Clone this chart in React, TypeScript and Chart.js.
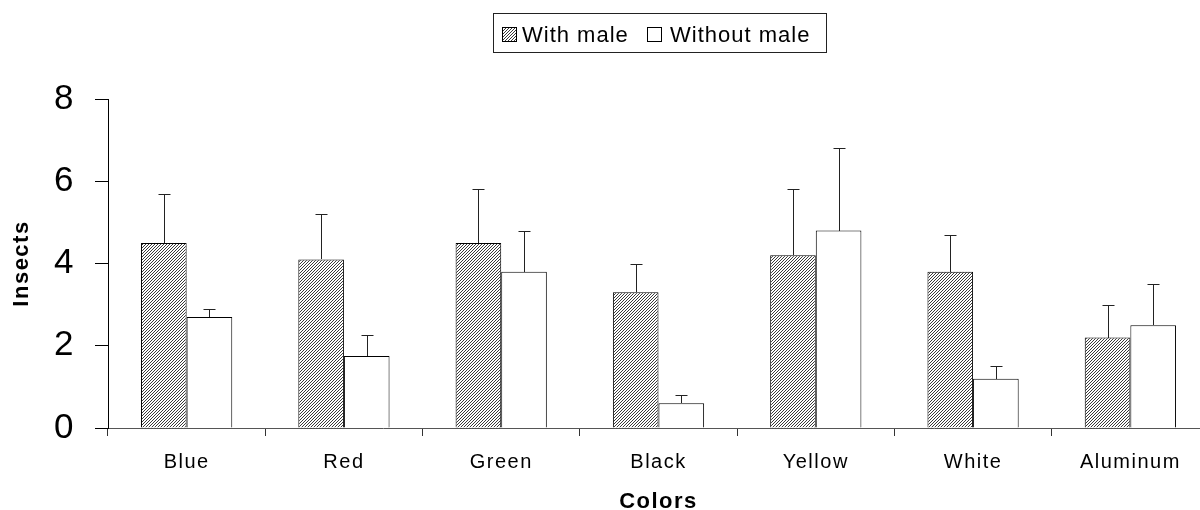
import { useEffect, useRef } from 'react';
import { Chart, registerables } from 'chart.js';

Chart.register(...registerables);

const categories = ['Blue', 'Red', 'Green', 'Black', 'Yellow', 'White', 'Aluminum'];
const withMale = [4.5, 4.1, 4.5, 3.3, 4.2, 3.8, 2.2];
const withMaleErr = [1.2, 1.1, 1.3, 0.7, 1.6, 0.9, 0.8];
const withoutMale = [2.7, 1.75, 3.8, 0.6, 4.8, 1.2, 2.5];
const withoutMaleErr = [0.2, 0.5, 1.0, 0.2, 2.0, 0.3, 1.0];
const seriesNames = ['With male', 'Without male'];
const yTickValues = [0, 2, 4, 6, 8];

const FONT = '"Liberation Sans", Arial, sans-serif';

function makeHatch(): CanvasPattern | string {
  const c = document.createElement('canvas');
  c.width = 3;
  c.height = 3;
  const g = c.getContext('2d');
  if (!g) return '#666';
  g.fillStyle = '#fff';
  g.fillRect(0, 0, 3, 3);
  g.fillStyle = '#3a3a3a';
  for (let x = 0; x < 3; x++) {
    for (let y = 0; y < 3; y++) {
      if ((x + y) % 3 === 2) g.fillRect(x, y, 1, 1);
    }
  }
  const main = document.createElement('canvas').getContext('2d');
  return (main && main.createPattern(c, 'repeat')) || '#666';
}

export default function App() {
  const ref = useRef<HTMLCanvasElement | null>(null);

  useEffect(() => {
    const canvas = ref.current;
    if (!canvas) return;
    const hatch = makeHatch();
    const errs = [withMaleErr, withoutMaleErr];

    const spacingPlugin = {
      id: 'spacing',
      beforeDraw(chart: any) {
        chart.ctx.letterSpacing = '1.5px';
      },
    };

    const errorBars = {
      id: 'errorBars',
      afterDatasetsDraw(chart: any) {
        const ctx = chart.ctx;
        const yScale = chart.scales.y;
        ctx.save();
        ctx.strokeStyle = '#222';
        ctx.lineWidth = 1;
        chart.data.datasets.forEach((ds: any, di: number) => {
          const meta = chart.getDatasetMeta(di);
          meta.data.forEach((el: any, i: number) => {
            const v = ds.data[i] as number;
            const top = yScale.getPixelForValue(v + errs[di][i]);
            const x = Math.round(el.x) + 0.5;
            const yb = Math.round(el.y);
            const yt = Math.round(top) + 0.5;
            ctx.beginPath();
            ctx.moveTo(x, yb);
            ctx.lineTo(x, yt);
            ctx.moveTo(x - 6, yt);
            ctx.lineTo(x + 6, yt);
            ctx.stroke();
          });
        });
        ctx.restore();
      },
    };

    const boxLegend = {
      id: 'boxLegend',
      afterDraw(chart: any) {
        const ctx = chart.ctx;
        ctx.save();
        ctx.letterSpacing = '1px';
        ctx.strokeStyle = '#222';
        ctx.lineWidth = 1;
        ctx.strokeRect(493.5, 13.5, 333, 39);
        const items = [
          { sx: 502, tx: 522, fill: hatch },
          { sx: 647, tx: 670, fill: '#ffffff' },
        ];
        ctx.font = `22px ${FONT}`;
        ctx.textBaseline = 'alphabetic';
        ctx.textAlign = 'left';
        items.forEach((it, i) => {
          ctx.fillStyle = it.fill as any;
          ctx.fillRect(it.sx, 27, 14, 14);
          ctx.strokeStyle = '#000';
          ctx.strokeRect(it.sx + 0.5, 27.5, 14, 14);
          ctx.fillStyle = '#000';
          ctx.fillText(seriesNames[i], it.tx, 42);
        });
        ctx.restore();
      },
    };

    const chart = new Chart(canvas, {
      type: 'bar',
      data: {
        labels: categories,
        datasets: [
          {
            label: seriesNames[0],
            data: withMale,
            backgroundColor: hatch as any,
            borderColor: '#000',
            borderWidth: 1,
            barPercentage: 1,
            categoryPercentage: 0.58,
          },
          {
            label: seriesNames[1],
            data: withoutMale,
            backgroundColor: '#ffffff',
            borderColor: '#000',
            borderWidth: 1,
            barPercentage: 1,
            categoryPercentage: 0.58,
          },
        ],
      },
      options: {
        responsive: false,
        animation: false,
        devicePixelRatio: 1,
        layout: { padding: { top: 99, right: 3, left: 0, bottom: 0 } },
        plugins: {
          legend: { display: false },
          tooltip: { enabled: false },
        },
        scales: {
          x: {
            afterFit: (scale: any) => {
              scale.height = 92;
            },
            grid: {
              display: true,
              drawOnChartArea: false,
              drawTicks: true,
              tickLength: 8,
              color: '#333',
              offset: true,
            },
            border: { display: true, color: '#555', width: 1 },
            ticks: {
              font: { family: FONT, size: 20 },
              color: '#000',
              padding: 14,
              autoSkip: false,
              maxRotation: 0,
              minRotation: 0,
            },
            title: {
              display: true,
              text: 'Colors',
              color: '#000',
              font: { family: FONT, size: 22, weight: 'bold', lineHeight: 1 },
              padding: { top: 0, bottom: 7 },
            },
          },
          y: {
            min: 0,
            max: 8,
            afterFit: (scale: any) => {
              scale.width = 108;
            },
            afterBuildTicks: (scale: any) => {
              scale.ticks = yTickValues.map((v) => ({ value: v }));
            },
            grid: {
              display: true,
              drawOnChartArea: false,
              drawTicks: true,
              tickLength: 13,
              color: '#000',
            },
            border: { display: true, color: '#000', width: 1 },
            ticks: {
              font: { family: FONT, size: 35 },
              color: '#000',
              padding: 20,
            },
            title: {
              display: true,
              text: 'Insects',
              color: '#000',
              font: { family: FONT, size: 22, weight: 'bold', lineHeight: 1 },
              padding: { top: 11, bottom: 0 },
            },
          },
        },
      },
      plugins: [spacingPlugin, errorBars, boxLegend],
    });

    return () => {
      chart.destroy();
    };
  }, []);

  return (
    <div
      style={{
        position: 'fixed',
        left: 0,
        top: 0,
        width: 1200,
        height: 510,
        overflow: 'hidden',
        background: '#fff',
      }}
    >
      <canvas ref={ref} width={1212} height={520} style={{ display: 'block' }} />
    </div>
  );
}
